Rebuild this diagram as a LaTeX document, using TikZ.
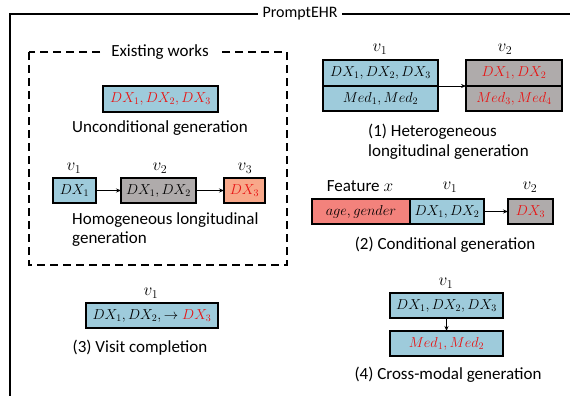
\documentclass[tikz,border=0pt]{standalone}
\usepackage{fontspec}
\setmainfont{Carlito}
\usetikzlibrary{arrows.meta}
\definecolor{bluefill}{RGB}{158,203,219}
\definecolor{grayfill}{RGB}{175,171,171}
\definecolor{orangefill}{RGB}{248,168,138}
\definecolor{salmonfill}{RGB}{243,130,124}
\definecolor{redtxt}{RGB}{232,20,20}
\tikzset{
  lbl/.style={font=\fontsize{17}{20}\selectfont, inner sep=0pt},
  vlbl/.style={font=\fontsize{17}{19}\selectfont, inner sep=0pt},
  bx/.style={draw, line width=1.2pt, inner sep=0pt, outer sep=0pt, minimum height=25pt, font=\fontsize{14}{16}\selectfont},
  arr/.style={line width=0.8pt, -{Stealth[length=5pt,width=4pt]}},
}
\begin{document}
\begin{tikzpicture}[x=1pt,y=-1pt]
\useasboundingbox (0,0) rectangle (570,396);
% outer frame
\draw[line width=1.1pt] (10,396) -- (10,14) -- (570,14);
\node[lbl, font=\fontsize{16}{19}\selectfont, fill=white, inner xsep=5pt, inner ysep=2pt] (title) at (300,14) {PromptEHR};
% dashed existing works
\draw[line width=1.1pt, dash pattern=on 8pt off 5pt] (29,52) rectangle (287,265);
\node[lbl, fill=white, inner xsep=9pt, inner ysep=2pt] (exist) at (160,52) {Existing works};
% unconditional
\node[bx, fill=bluefill, minimum width=115pt, minimum height=26pt] (unc) at (160.5,99) {$\color{redtxt}DX_1,DX_2,DX_3$};
\node[lbl] (unctxt) at (160,128) {Unconditional generation};
% homogeneous
\node[bx, fill=bluefill, minimum width=43pt] (h1) at (74.5,190.5) {$DX_1$};
\node[bx, fill=grayfill, minimum width=75pt] (h2) at (158.5,190.5) {$DX_1,DX_2$};
\node[bx, fill=orangefill, minimum width=41pt] (h3) at (244.5,190.5) {$\color{redtxt}DX_3$};
\node[vlbl] (hv1) at (74,168) {$v_1$};
\node[vlbl] (hv2) at (160,168) {$v_2$};
\node[vlbl] (hv3) at (245,168) {$v_3$};
\draw[arr] (h1) -- (h2);
\draw[arr] (h2) -- (h3);
\node[lbl, anchor=west, align=left, font=\fontsize{17}{19}\selectfont] (homtxt) at (72,229.5) {Homogeneous longitudinal\\generation};
% heterogeneous
\node[bx, fill=bluefill, minimum width=115pt, minimum height=26pt] (ht1) at (380.5,73) {$DX_1,DX_2,DX_3$};
\node[bx, fill=bluefill, minimum width=115pt] (hb1) at (380.5,98.5) {$Med_1,Med_2$};
\node[bx, fill=grayfill, minimum width=96pt, minimum height=26pt] (ht2) at (514,73) {$\color{redtxt}DX_1,DX_2$};
\node[bx, fill=grayfill, minimum width=96pt] (hb2) at (514,98.5) {$\color{redtxt}Med_3,Med_4$};
\node[vlbl] (hev1) at (380,49) {$v_1$};
\node[vlbl] (hev2) at (505,49) {$v_2$};
\draw[arr] (ht1.south east) -- (ht2.south west);
\node[lbl, anchor=west, align=left, font=\fontsize{17}{20}\selectfont] (hettxt) at (368,142) {(1) Heterogeneous\\longitudinal generation};
% conditional
\node[bx, fill=salmonfill, minimum width=98pt] (age) at (361,211.5) {$age, gender$};
\node[bx, fill=bluefill, minimum width=74pt] (cdx) at (447,211.5) {$DX_1,DX_2$};
\node[bx, fill=grayfill, minimum width=45pt] (cdx3) at (530.5,211.5) {$\color{redtxt}DX_3$};
\node[lbl] (feat) at (360,186) {Feature $x$};
\node[vlbl] (cv1) at (450,187) {$v_1$};
\node[vlbl] (cv2) at (530,187) {$v_2$};
\draw[arr] (cdx) -- (cdx3);
\node[lbl] (condtxt) at (445,245) {(2) Conditional generation};
% visit completion
\node[bx, fill=bluefill, minimum width=132pt] (vc) at (152,315.5) {$DX_1,DX_2,\rightarrow {\color{redtxt}DX_3}$};
\node[vlbl] (vv1) at (151,293) {$v_1$};
\node[lbl] (vctxt) at (140,348) {(3) Visit completion};
% cross-modal
\node[bx, fill=bluefill, minimum width=113pt] (cm1) at (446.5,305.5) {$DX_1,DX_2,DX_3$};
\node[bx, fill=bluefill, minimum width=113pt] (cm2) at (446.5,343.5) {$\color{redtxt}Med_1,Med_2$};
\node[vlbl] (cmv1) at (446,283) {$v_1$};
\draw[arr] (cm1) -- (cm2);
\node[lbl] (cmtxt) at (448,375) {(4) Cross-modal generation};
\end{tikzpicture}
\end{document}
